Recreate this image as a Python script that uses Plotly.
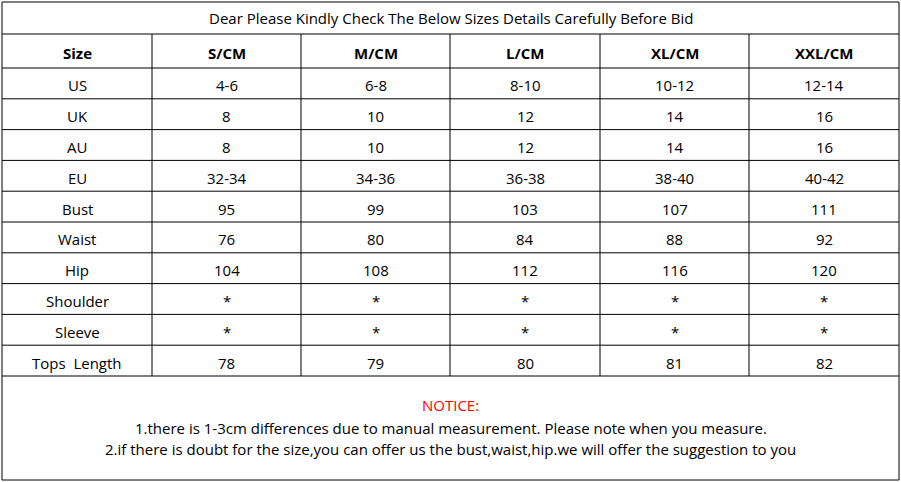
import plotly.graph_objects as go

TITLE = 'Dear Please Kindly Check The Below Sizes Details Carefully Before Bid'
headers = ['Size', 'S/CM', 'M/CM', 'L/CM', 'XL/CM', 'XXL/CM']
row_labels = ['US', 'UK', 'AU', 'EU', 'Bust', 'Waist', 'Hip', 'Shoulder', 'Sleeve', 'Tops  Length']
s_cm = ['4-6', '8', '8', '32-34', '95', '76', '104', '*', '*', '78']
m_cm = ['6-8', '10', '10', '34-36', '99', '80', '108', '*', '*', '79']
l_cm = ['8-10', '12', '12', '36-38', '103', '84', '112', '*', '*', '80']
xl_cm = ['10-12', '14', '14', '38-40', '107', '88', '116', '*', '*', '81']
xxl_cm = ['12-14', '16', '16', '40-42', '111', '92', '120', '*', '*', '82']
notice_title = 'NOTICE:'
notice_lines = [
    '1.there is 1-3cm differences due to manual measurement. Please note when you measure.',
    '2.if there is doubt for the size,you can offer us the bust,waist,hip.we will offer the suggestion to you',
]

W, H = 901, 482
col_x = [2, 152, 301, 450, 600, 749, 899]
top, title_bot, head_bot = 2, 34, 68
row_h = 30.8
n = len(row_labels)
table_bot = head_bot + n * row_h
bottom = 480
FONT = 'Open Sans'

fig = go.Figure()
shapes = []
line = dict(color='black', width=1)
# outer box
shapes.append(dict(type='rect', x0=col_x[0], x1=col_x[-1], y0=top, y1=bottom, line=line))
# horizontal lines
for y in [title_bot, head_bot] + [head_bot + (i + 1) * row_h for i in range(n)]:
    shapes.append(dict(type='line', x0=col_x[0], x1=col_x[-1], y0=y, y1=y, line=line))
# vertical lines
for x in col_x[1:-1]:
    shapes.append(dict(type='line', x0=x, x1=x, y0=title_bot, y1=table_bot, line=line))

ann = []
ann.append(dict(x=(col_x[0] + col_x[-1]) / 2, y=(top + title_bot) / 2, text=TITLE,
                font=dict(size=15, family=FONT, color='black')))
for j, h in enumerate(headers):
    ann.append(dict(x=(col_x[j] + col_x[j + 1]) / 2, y=(title_bot + head_bot) / 2 + 2,
                    text='<b>' + h + '</b>', font=dict(size=15, family=FONT, color='black')))
cols = [row_labels, s_cm, m_cm, l_cm, xl_cm, xxl_cm]
for j, c in enumerate(cols):
    for i, v in enumerate(c):
        ann.append(dict(x=(col_x[j] + col_x[j + 1]) / 2, y=head_bot + (i + 0.5) * row_h + 2,
                        text=v, font=dict(size=15, family=FONT, color='black')))
ann.append(dict(x=W / 2, y=405, text=notice_title, font=dict(size=15, family=FONT, color='red')))
for k, t in enumerate(notice_lines):
    ann.append(dict(x=W / 2, y=428 + k * 21, text=t, font=dict(size=15, family=FONT, color='black')))
for a in ann:
    a.update(xref='x', yref='y', showarrow=False, xanchor='center', yanchor='middle')

fig.update_layout(
    width=W, height=H, margin=dict(l=0, r=0, t=0, b=0),
    plot_bgcolor='white', paper_bgcolor='white',
    xaxis=dict(range=[0, W], visible=False, fixedrange=True),
    yaxis=dict(range=[H, 0], visible=False, fixedrange=True),
    shapes=shapes, annotations=ann, showlegend=False,
)
fig.write_html('out.html', config={'displayModeBar': False},
               post_script="document.body.style.margin='0';document.body.style.overflow='hidden';")
